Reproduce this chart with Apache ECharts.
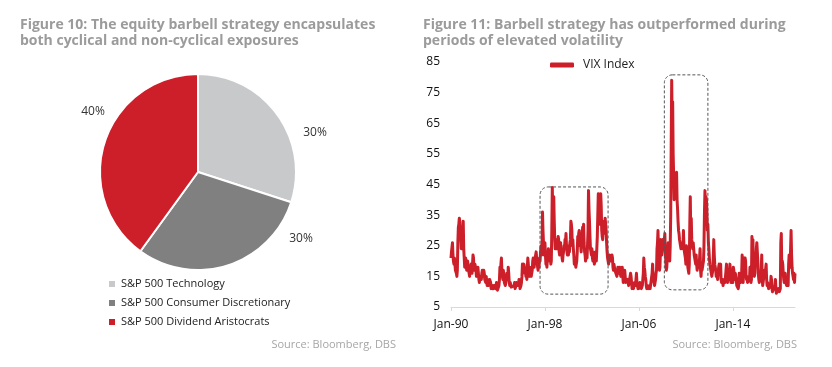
<!DOCTYPE html>
<html><head><meta charset="utf-8">
<script src="https://cdn.jsdelivr.net/npm/echarts/dist/echarts.min.js"></script>
<style>html,body{margin:0;padding:0;background:#fff}#c{width:832px;height:367px}</style>
</head><body><div id="c"></div>
<script>
// ---- Data ----
const pieNames = ['S&P 500 Technology', 'S&P 500 Consumer Discretionary', 'S&P 500 Dividend Aristocrats'];
const pieValues = [30, 30, 40];

const vixStartYear = 1990;
// Mid-month VIX readings, Jan-1990 .. Apr-2019
const vixMid = [
  21,23,22,19,19,17,15,26,32,33,28,24,      // 1990
  28,24,18,21,17,20,17,15,17,18,19,21,      // 1991
  17,19,15,16,16,13,14,14,17,15,16,14,      // 1992
  15,12,14,13,14,11,12,12,10.5,12,11.5,12,  // 1993
  10,12,18,19,17,14,15,12.5,13,16,15,16,    // 1994
  12,13,11,12,11,13,10.5,13,11.5,12,13,11,  // 1995
  13,19,17,18,17,16,18,19,15,18,15,17,      // 1996
  21,18,20,23,20,17,18,20,25,23,30,22,      // 1997
  26,19,18,20,23,20,19,30,36,41,27,25,      // 1998
  24,25,27,22,26,24,20,23,24,26,25,22,      // 1999
  22,23,27,32,25,24,19,20,18,23,25,30,      // 2000
  27,23,28,29,26,22,20,21,30,37,28,24,      // 2001
  24,20,21,20,23,24,35,40,33,42,30,27,      // 2002
  29,31,34,26,21,19,22,20,20,21,17,18,      // 2003
  17,16,16,17,16,16,15,18,13,15,15,12.5,    // 2004
  12.5,13,13,14,15,11,11.5,12,13,14,13,11,  // 2005
  11,13,12,11,14,21,17,14,11,12,11,12,      // 2006
  10.5,11,19,14,12,14,17,26,24,17,23,24,    // 2007
  24,27,25,23,17,21,26,21,25,58,65,55,      // 2008
  40,48,42,40,33,29,27,24,26,24,25,22,      // 2009
  19,24,18,16,32,29,27,24,24,21,19,19,      // 2010
  17,20,18,17,18,17,20,36,38,40,30,26,      // 2011
  21,18,16,15,21,22,19,15,16,16,19,17,      // 2012
  14,13,12,13,13,17,15,14,15,19,13,15,      // 2013
  13,17,14,15,12,12,12,15,13,16,14,17,      // 2014
  19,20,14,13,13,14,16,14,24,19,15,22,      // 2015
  24,23,16,13,15,17,14,11.5,12,16,19,12,    // 2016
  12,10.5,11,15,11,10.5,10,12,11,10,10,11,  // 2017
  10,26,17,19,14,13,13,12,13,19,20,24,      // 2018
  22,16,14,13                               // 2019
];
// Month-end VIX readings, Jan-1990 .. Apr-2019
const vixEnd = [
  23,26,20,21,17,16,17,31,34,30,24,26,      // 1990
  33,21,19,19,18,18,16,17,19,16,22,17,      // 1991
  19,17,17,18,14,15,15,16,15,17,14,13,      // 1992
  13,14,12,14,13,12,11,11,12,11,13,10.5,    // 1993
  11,14,16,21,15,17,13,12,14,14,18,13,      // 1994
  13,11.5,12,11,12,11,12,12,13,14,11,12,    // 1995
  15,17,19,16,15,14,21,16,18,17,16,20,      // 1996
  19,20,22,21,18,19,21,23,22,36,26,24,      // 1997
  22,20,21,24,21,22,20,44,40,33,24,27,      // 1998
  26,28,23,25,22,21,22,25,27,29,23,24,      // 1999
  25,26,33,30,27,22,21,18,20,28,29,27,      // 2000
  25,26,31,32,23,20,22,25,43,33,24,22,      // 2001
  21,23,19,22,20,28,42,32,39,38,28,30,      // 2002
  33,34,30,23,20,21,21,20,22,18,19,17,      // 2003
  16,15,18,16,18,15,17,15,14,17,13,13,      // 2004
  14,12,14,16,13,12,11,13,12,16,12,12,      // 2005
  12,12,11,12,16,18,15,12,12,11,10.5,11,    // 2006
  11,16,15,13,13,16,24,30,19,18,27,22,      // 2007
  27,25,29,20,18,23,24,20,35,79,72,48,      // 2008
  44,45,49,37,30,27,25,25,25,30,23,21,      // 2009
  25,21,17,19,41,34,25,26,22,20,22,17,      // 2010
  19,18,24,15,17,19,25,43,41,36,32,24,      // 2011
  19,17,15,17,27,19,17,16,14,18,17,19,      // 2012
  13,14,13,14,15,19,13,16,16,17,13,14,      // 2013
  18,14,16,14,11.5,11,16,14,15,22,13,21,    // 2014
  21,15,15,13,13,18,13,28,27,16,16,20,      // 2015
  26,20,14,14,14,22,12,12,17,16,14,13,      // 2016
  11,11,12,14,10,10,9.5,14,9.5,10,11,10,    // 2017
  11,29,20,16,13,16,12.5,13,12,22,18,30,    // 2018
  18,15,16,16                               // 2019
];
const xTickLabels = ['Jan-90', 'Jan-98', 'Jan-06', 'Jan-14'];
const yMin = 5, yMax = 85, yStep = 10;
// highlighted periods: [start month, end month, low value, high value]
const boxPeriods = [
  ['Aug-97', 'May-03', 9.2, 44.2],
  ['Mar-08', 'Nov-11', 10.6, 80.8]
];

// ---- Build ----
const monNames = ['Jan','Feb','Mar','Apr','May','Jun','Jul','Aug','Sep','Oct','Nov','Dec'];
const monthLabel = (i) => monNames[i % 12] + '-' + String((vixStartYear + Math.floor(i / 12)) % 100).padStart(2, '0');
const cats = [], vals = [];
vixEnd.forEach((v, i) => {
  cats.push(monthLabel(i) + '|a'); vals.push(vixMid[i]);
  cats.push(monthLabel(i) + '|b'); vals.push(v);
});
const isTick = (idx, v) => v.endsWith('|a') && xTickLabels.includes(v.split('|')[0]);

const RED = '#cc1f29';
const FONT = 'Open Sans';
const pieColors = ['#c8c9cb', '#808080', RED];
const pieLabelPos = [[315, 133], [301, 239], [93, 112]];

const chart = echarts.init(document.getElementById('c'), null, {renderer: 'canvas'});
const option = {
  animation: false,
  backgroundColor: '#fff',
  textStyle: {fontFamily: FONT},
  title: [
    {text: 'Figure 10: The equity barbell strategy encapsulates\nboth cyclical and non-cyclical exposures',
     left: 20, top: 17, padding: 0,
     textStyle: {fontFamily: FONT, fontWeight: 'bold', fontSize: 14, color: '#9b9b9b', lineHeight: 16}},
    {text: 'Figure 11: Barbell strategy has outperformed during\nperiods of elevated volatility',
     left: 423, top: 17, padding: 0,
     textStyle: {fontFamily: FONT, fontWeight: 'bold', fontSize: 14, color: '#9b9b9b', lineHeight: 16}},
    {text: 'Source: Bloomberg, DBS', right: 436, top: 339, padding: 0,
     textStyle: {fontFamily: FONT, fontWeight: 'normal', fontSize: 11, color: '#a6a6a6'}},
    {text: 'Source: Bloomberg, DBS', right: 35, top: 339, padding: 0,
     textStyle: {fontFamily: FONT, fontWeight: 'normal', fontSize: 11, color: '#a6a6a6'}}
  ],
  legend: [
    {seriesIndex: 0, orient: 'vertical', left: 107, top: 278, padding: 0,
     itemWidth: 8, itemHeight: 8, itemGap: 7, icon: 'rect',
     data: pieNames,
     textStyle: {fontFamily: FONT, fontSize: 11, color: '#222', lineHeight: 12}},
    {orient: 'horizontal', left: 550, top: 59, padding: 0,
     itemWidth: 24, itemHeight: 5, icon: 'roundRect',
     data: ['VIX Index'],
     textStyle: {fontFamily: FONT, fontSize: 12, color: '#222', padding: [0, 0, 0, 4]}}
  ],
  grid: {left: 451, right: 37, top: 62, bottom: 60, containLabel: false, outerBoundsMode: 'none'},
  xAxis: {
    type: 'category', data: cats, boundaryGap: false,
    axisLine: {lineStyle: {color: '#d9d9d9', width: 1}},
    axisTick: {show: true, length: 4, lineStyle: {color: '#d9d9d9'}, interval: isTick},
    axisLabel: {interval: isTick, margin: 12, formatter: (v) => v.split('|')[0],
                fontFamily: FONT, fontSize: 12, color: '#111'},
    splitLine: {show: false}
  },
  yAxis: {
    type: 'value', min: yMin, max: yMax, interval: yStep,
    axisLine: {show: false}, axisTick: {show: false}, splitLine: {show: false},
    axisLabel: {margin: 11, fontFamily: FONT, fontSize: 12, color: '#111'}
  },
  series: [
    {type: 'pie', name: 'mix', center: [198, 172], radius: 98, startAngle: 90, clockwise: true,
     silent: true,
     data: pieNames.map((n, i) => ({name: n, value: pieValues[i], itemStyle: {color: pieColors[i]}})),
     itemStyle: {borderColor: '#fff', borderWidth: 2},
     label: {show: true, formatter: '{d}%', fontFamily: FONT, fontSize: 12, color: '#333'},
     labelLine: {show: false},
     labelLayout: (p) => ({x: pieLabelPos[p.dataIndex][0], y: pieLabelPos[p.dataIndex][1], align: 'center', verticalAlign: 'middle'}),
     emphasis: {disabled: true}
    },
    {type: 'line', name: 'VIX Index', data: vals, showSymbol: false, symbol: 'none',
     lineStyle: {color: RED, width: 3, join: 'round'}, itemStyle: {color: RED},
     emphasis: {disabled: true}}
  ]
};
chart.setOption(option);

// dashed rounded highlight boxes, positioned through the chart's own scales
const graphics = boxPeriods.map(([a, b, lo, hi]) => {
  const p1 = chart.convertToPixel({xAxisIndex: 0, yAxisIndex: 0}, [cats.indexOf(a + '|a'), hi]);
  const p2 = chart.convertToPixel({xAxisIndex: 0, yAxisIndex: 0}, [cats.indexOf(b + '|b'), lo]);
  return {type: 'rect', silent: true, z: 10,
    shape: {x: p1[0], y: p1[1], width: p2[0] - p1[0], height: p2[1] - p1[1], r: 8},
    style: {fill: 'none', stroke: '#555', lineWidth: 1, lineDash: [3, 2]}};
});
chart.setOption({graphic: graphics});
</script>
</body></html>
